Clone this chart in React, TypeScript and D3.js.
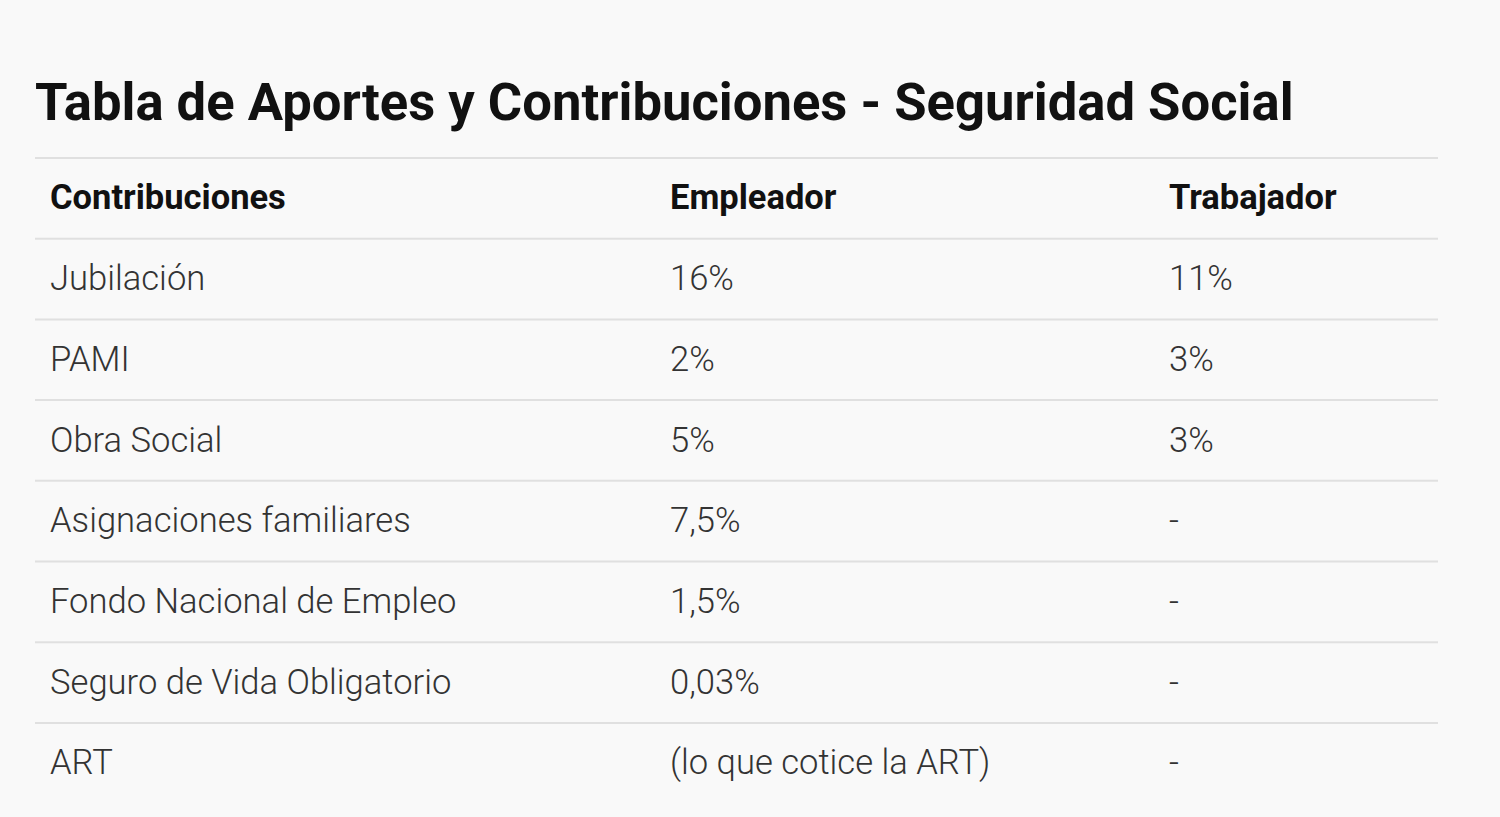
import React from "react";
import * as d3 from "d3";

const title = "Tabla de Aportes y Contribuciones - Seguridad Social";
const headers = ["Contribuciones", "Empleador", "Trabajador"];
const concepts = [
  "Jubilación",
  "PAMI",
  "Obra Social",
  "Asignaciones familiares",
  "Fondo Nacional de Empleo",
  "Seguro de Vida Obligatorio",
  "ART",
];
const employer = ["16%", "2%", "5%", "7,5%", "1,5%", "0,03%", "(lo que cotice la ART)"];
const worker = ["11%", "3%", "3%", "-", "-", "-", "-"];

const W = 1500;
const H = 817;

export default function App() {
  const rowKeys = ["header", ...concepts];
  const y = d3.scaleBand<string>().domain(rowKeys).range([158, 158 + 80.7 * rowKeys.length]);
  const x = d3.scaleOrdinal<string, number>().domain(headers).range([50, 670, 1169]);
  const lineX0 = 35;
  const lineX1 = 1438;
  const font = "Roboto, 'Noto Sans', sans-serif";
  const rows = concepts.map((c, i) => [c, employer[i], worker[i]]);

  return (
    <svg width={W} height={H} style={{ position: "absolute", left: 0, top: 0, display: "block" }}>
      <rect x={0} y={0} width={W} height={H} fill="#f9f9f9" />
      <text x={35} y={120} fontFamily={font} fontWeight={700} fontSize={52.6} fill="#111">
        {title}
      </text>
      {rowKeys.map((k) => (
        <line key={"l" + k} x1={lineX0} x2={lineX1} y1={y(k)!} y2={y(k)!} stroke="#e0e0e0" strokeWidth={2} />
      ))}
      {headers.map((h) => (
        <text
          key={h}
          x={x(h)}
          y={y("header")! + y.bandwidth() / 2}
          dy="0.32em"
          fontFamily={font}
          fontWeight={700}
          fontSize={34.5}
          fill="#111"
        >
          {h}
        </text>
      ))}
      {rows.map((r, i) =>
        r.map((v, j) => (
          <text
            key={i + "-" + j}
            x={x(headers[j])}
            y={y(concepts[i])! + y.bandwidth() / 2}
            dy="0.32em"
            fontFamily={font}
            fontWeight={300}
            fontSize={34.6}
            fill="#333"
          >
            {v}
          </text>
        ))
      )}
    </svg>
  );
}
